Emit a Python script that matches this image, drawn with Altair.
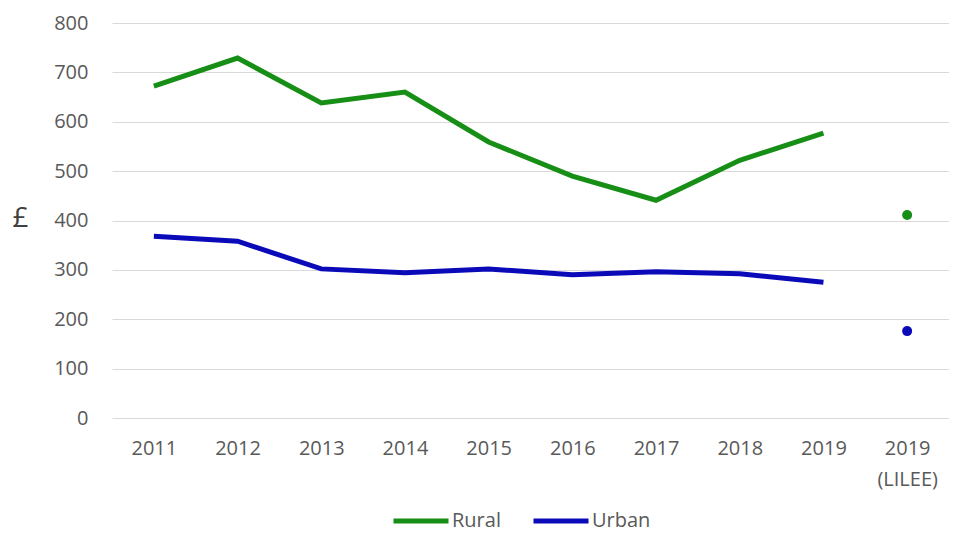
import altair as alt
import pandas as pd

categories = ["2011", "2012", "2013", "2014", "2015", "2016", "2017", "2018", "2019", "2019 (LILEE)"]
rural = [672, 729, 638, 660, 559, 490, 441, 522, 577, 411]
urban = [368, 358, 302, 294, 302, 290, 296, 292, 275, 176]
series = ["Rural", "Urban"]
colors = ["#178f17", "#0a0ab9"]

rows = []
for name, vals in zip(series, [rural, urban]):
    for c, v in zip(categories, vals):
        rows.append({"cat": c, "series": name, "value": v, "lilee": c.endswith("(LILEE)")})
df = pd.DataFrame(rows)

font = "Open Sans"
xenc = alt.X("cat:N", sort=categories, scale=alt.Scale(type="point", padding=0.5),
             axis=alt.Axis(title=None, labelExpr="split(datum.label, ' ')", labelLineHeight=31,
                           labelPadding=20, ticks=False, domain=False, grid=False,
                           labelAngle=0, labelFontSize=20, labelColor="#595959", labelFont=font))
yenc = alt.Y("value:Q", scale=alt.Scale(domain=[0, 800]),
             axis=alt.Axis(values=list(range(0, 801, 100)), title="£", titleAngle=0,
                           titleX=-92, titleY=195, titleAlign="center", titleBaseline="middle",
                           titleFontSize=28, titleFontWeight="normal", titleColor="#404040",
                           titleFont=font, labelFont=font,
                           labelFontSize=20, labelColor="#595959", labelPadding=24,
                           ticks=False, domain=False, gridColor="#d9d9d9", gridWidth=1.2))
cscale = alt.Scale(domain=series, range=colors)

lines = alt.Chart(df).transform_filter("!datum.lilee").mark_line(strokeWidth=5).encode(
    x=xenc, y=yenc,
    color=alt.Color("series:N", scale=cscale,
                    legend=alt.Legend(title=None, orient="none", direction="horizontal",
                                      legendX=279, legendY=468, symbolType="stroke",
                                      symbolSize=3025, symbolStrokeWidth=5, labelFontSize=20,
                                      labelColor="#595959", labelFont=font, columnPadding=22,
                                      labelOffset=1, padding=0)),
)
points = alt.Chart(df).transform_filter("datum.lilee").mark_circle(size=100, opacity=1).encode(
    x=xenc, y=yenc,
    color=alt.Color("series:N", scale=cscale, legend=None),
)

chart = alt.layer(lines, points).properties(
    width=837, height=395,
    autosize=alt.AutoSizeParams(type="none"),
    padding={"left": 104, "top": 15, "right": 0, "bottom": 115},
).configure_view(stroke=None)

chart.save("out.html", embed_options={"renderer": "svg", "actions": False})
